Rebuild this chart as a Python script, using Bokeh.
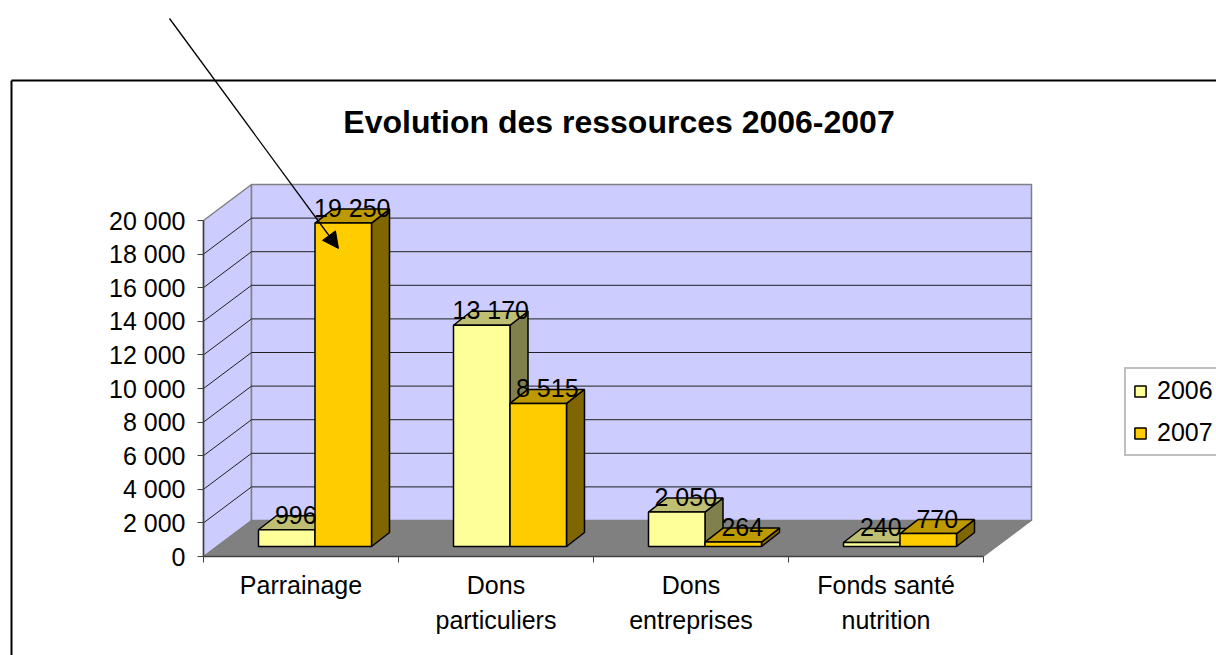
from bokeh.plotting import figure
from bokeh.embed import file_html
from bokeh.resources import INLINE
from bokeh.core.properties import value
from bokeh.models import (Range1d, FixedTicker, Legend, LegendItem, Arrow, NormalHead, Label)

FONT = "Liberation Sans"

categories = ["Parrainage", "Dons\nparticuliers", "Dons\nentreprises", "Fonds santé\nnutrition"]
series_names = ["2006", "2007"]
values_2006 = [996, 13170, 2050, 240]
values_2007 = [19250, 8515, 264, 770]
labels_2006 = ["996", "13 170", "2 050", "240"]
labels_2007 = ["19 250", "8 515", "264", "770"]
y_ticks = [0, 2000, 4000, 6000, 8000, 10000, 12000, 14000, 16000, 18000, 20000]
y_tick_labels = ["0", "2 000", "4 000", "6 000", "8 000", "10 000", "12 000", "14 000", "16 000", "18 000", "20 000"]
chart_title = "Evolution des ressources 2006-2007"

# page geometry of the plot's scales
PX_X = 195.0      # px per category
PX_Y = 0.0168     # px per value unit
X0 = 203.0        # page x of category 0
Y0 = 556.0        # page y of value 0
W, H = 1216, 655

def fx(px):
    return (px - X0) / PX_X

def fy(py):
    return (Y0 - py) / PX_Y

WALL_DX, WALL_DY = 48 / PX_X, 36 / PX_Y
BAR_DX, BAR_DY = 18 / PX_X, 14 / PX_Y
BASE_X, BASE_Y = 55 / PX_X, 10 / PX_Y
BAR_W = 56.5 / PX_X
N = len(categories)
MAX_V = y_ticks[-1]

p = figure(width=W, height=H, output_backend="svg", toolbar_location=None,
           x_range=Range1d(fx(0), fx(W)), y_range=Range1d(fy(H), fy(0)),
           min_border=0)
p.background_fill_color = "white"
p.border_fill_color = "white"
p.outline_line_color = None
p.grid.visible = False

# walls and floor
p.patch([0, WALL_DX, WALL_DX, 0], [0, WALL_DY, MAX_V + WALL_DY, MAX_V],
        fill_color="#CCCCFF", line_color="#808080", line_width=1.5)
p.patch([WALL_DX, N + WALL_DX, N + WALL_DX, WALL_DX],
        [WALL_DY, WALL_DY, MAX_V + WALL_DY, MAX_V + WALL_DY],
        fill_color="#CCCCFF", line_color="#808080", line_width=1.5)
grid = y_ticks[1:-1]
p.multi_line([[0, WALL_DX, N + WALL_DX] for _ in grid],
             [[v, v + WALL_DY, v + WALL_DY] for v in grid],
             line_color="#202020", line_width=1)
p.patch([0, N, N + WALL_DX, WALL_DX], [0, 0, WALL_DY, WALL_DY],
        fill_color="#808080", line_color="#808080", line_width=1)

# bars
styles = [("#FFFF99", "#BFBF73", "#80804D"), ("#FFCC00", "#BF9900", "#7F6600")]
renderers = []
for s, vals in enumerate([values_2006, values_2007]):
    front, top, side = styles[s]
    lefts = [i + BASE_X + s * BAR_W for i in range(N)]
    rights = [l + BAR_W for l in lefts]
    tops = [BASE_Y + v for v in vals]
    p.patches([[r, r + BAR_DX, r + BAR_DX, r] for r in rights],
              [[BASE_Y, BASE_Y + BAR_DY, t + BAR_DY, t] for t in tops],
              fill_color=side, line_color="black", line_width=1.5)
    p.patches([[l, l + BAR_DX, r + BAR_DX, r] for l, r in zip(lefts, rights)],
              [[t, t + BAR_DY, t + BAR_DY, t] for t in tops],
              fill_color=top, line_color="black", line_width=1.5)
    r = p.vbar(x=[l + BAR_W / 2 for l in lefts], width=BAR_W, bottom=BASE_Y, top=tops,
               fill_color=front, line_color="black", line_width=1.5)
    renderers.append(r)

# value labels
for s, (vals, labs) in enumerate([(values_2006, labels_2006), (values_2007, labels_2007)]):
    p.text([i + BASE_X + s * BAR_W + BAR_W / 2 + BAR_DX / 2 for i in range(N)],
           [BASE_Y + v + BAR_DY for v in vals], text=labs,
           text_font=value(FONT), text_font_size="25px", text_color="black",
           text_align="center", text_baseline="middle", y_offset=-1)

# axes
ya = p.yaxis[0]
ya.fixed_location = 0
ya.ticker = FixedTicker(ticks=y_ticks)
ya.major_label_overrides = dict(zip(y_ticks, y_tick_labels))
ya.bounds = (0, MAX_V)
ya.major_label_text_font = FONT
ya.major_label_text_font_size = "25px"
ya.major_label_text_color = "black"
ya.major_label_standoff = 12
ya.major_tick_in = 0
ya.major_tick_out = 6
ya.minor_tick_out = 0
ya.axis_line_color = "#404040"
ya.axis_line_width = 1.5
ya.major_tick_line_color = "#404040"

xa = p.xaxis[0]
xa.fixed_location = 0
centers = [i + 0.5 for i in range(N)]
xa.ticker = FixedTicker(ticks=centers, minor_ticks=list(range(N + 1)))
xa.major_label_overrides = dict(zip(centers, categories))
xa.bounds = (0, N)
xa.major_label_text_font = FONT
xa.major_label_text_font_size = "25px"
xa.major_label_text_color = "black"
xa.major_label_text_line_height = 1.25
xa.major_label_standoff = 8
xa.major_tick_in = 0
xa.major_tick_out = 0
xa.minor_tick_in = 0
xa.minor_tick_out = 6
xa.minor_tick_line_color = "#404040"
xa.axis_line_color = "#404040"
xa.axis_line_width = 1.5

# title
p.add_layout(Label(x=fx(618.5), y=fy(121), text=chart_title, text_align="center", text_baseline="middle",
                   text_font=FONT, text_font_style="bold", text_font_size="32px", text_color="black"))

# legend
legend = Legend(items=[LegendItem(label=n, renderers=[r]) for n, r in zip(series_names, renderers)],
                location=(1124, H - 456), margin=0, padding=7,
                spacing=13, glyph_width=14, glyph_height=14, label_standoff=10,
                label_text_font=FONT, label_text_font_size="25px", label_text_color="black",
                border_line_color="#808080", border_line_width=2,
                background_fill_color="white", background_fill_alpha=1)
p.add_layout(legend, "center")

# chart frame lines and the pointing arrow
for a, b, c, d in [(11, 80, W, 80), (11, 80, 11, H)]:
    p.add_layout(Arrow(end=None, x_start=fx(a), y_start=fy(b), x_end=fx(c), y_end=fy(d),
                       line_color="black", line_width=2))
p.add_layout(Arrow(end=NormalHead(size=16, fill_color="black", line_color="black", line_width=1),
                   x_start=fx(169), y_start=fy(18), x_end=fx(338), y_end=fy(248),
                   line_color="black", line_width=1.3))

open("out.html", "w").write(file_html(p, INLINE))
